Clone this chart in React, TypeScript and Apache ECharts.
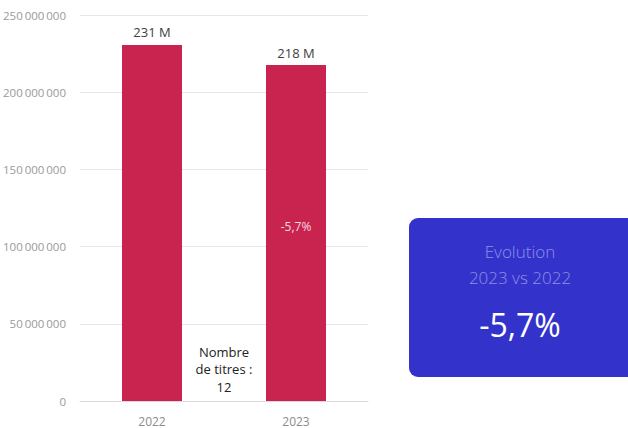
import React, { useEffect, useRef } from "react";
import * as echarts from "echarts";

const years = ["2022", "2023"];
const values = [230600000, 217600000];
const topLabels = ["231 M", "218 M"];
const insideLabels = ["", "-5,7%"];
const yTicks = { min: 0, max: 250000000, interval: 50000000 };
const countText = "Nombre\nde titres :\n12";
const boxTitle = "Evolution\n2023 vs 2022";
const boxValue = "-5,7%";

const FONT = "'Open Sans', 'Noto Sans', sans-serif";

function fmt(v: number): string {
  return String(Math.round(v)).replace(/\B(?=(\d{3})+(?!\d))/g, "\u2009");
}

export default function App() {
  const ref = useRef<HTMLDivElement>(null);
  useEffect(() => {
    if (!ref.current) return;
    const chart = echarts.init(ref.current, undefined, { renderer: "svg" });
    chart.setOption({
      animation: false,
      textStyle: { fontFamily: FONT },
      grid: { left: 80, right: 260, top: 15, bottom: 27, containLabel: false },
      xAxis: {
        type: "category",
        data: years,
        axisLine: { lineStyle: { color: "#d9d9d9", width: 1 } },
        axisTick: { show: false },
        axisLabel: { color: "#8c8c8c", fontSize: 12, margin: 14, fontFamily: FONT },
      },
      yAxis: {
        type: "value",
        min: yTicks.min,
        max: yTicks.max,
        interval: yTicks.interval,
        axisLabel: {
          color: "#999999",
          fontSize: 11.5,
          margin: 14,
          fontFamily: FONT,
          formatter: (v: number) => fmt(v),
        },
        splitLine: { lineStyle: { color: "#e6e6e6" } },
        axisLine: { show: false },
        axisTick: { show: false },
      },
      series: [
        {
          type: "bar",
          data: values,
          barWidth: 60,
          itemStyle: { color: "#C9234F" },
          label: {
            show: true,
            position: "top",
            distance: 6,
            color: "#404040",
            fontSize: 13,
            fontFamily: FONT,
            formatter: (p: any) => topLabels[p.dataIndex],
          },
          z: 2,
        },
        {
          type: "bar",
          data: values,
          barWidth: 60,
          barGap: "-100%",
          itemStyle: { color: "rgba(0,0,0,0)" },
          label: {
            show: true,
            position: "inside",
            offset: [0, -7],
            color: "#f4dbe2",
            fontSize: 12,
            fontFamily: FONT,
            formatter: (p: any) => insideLabels[p.dataIndex],
          },
          z: 3,
          silent: true,
        },
      ],
      graphic: [
        {
          type: "text",
          style: {
            text: countText,
            x: 224,
            y: 343,
            fill: "#222222",
            font: `13px ${FONT}`,
            align: "center",
            verticalAlign: "top",
            lineHeight: 17.5,
          },
          z: 10,
        },
        {
          type: "rect",
          shape: { x: 409, y: 218, width: 230, height: 159, r: 9 },
          style: { fill: "#3333CC" },
        },
        {
          type: "text",
          style: {
            text: boxTitle,
            x: 520,
            y: 238,
            fill: "#8f8fe6",
            font: `300 17px ${FONT}`,
            align: "center",
            lineHeight: 26,
          },
        },
        {
          type: "text",
          style: {
            text: boxValue,
            x: 520,
            y: 308,
            fill: "#ffffff",
            font: `400 32px ${FONT}`,
            align: "center",
          },
        },
      ],
    });
    return () => chart.dispose();
  }, []);
  return (
    <div
      ref={ref}
      style={{ position: "fixed", left: 0, top: 0, width: 628, height: 428, background: "#fff" }}
    />
  );
}
